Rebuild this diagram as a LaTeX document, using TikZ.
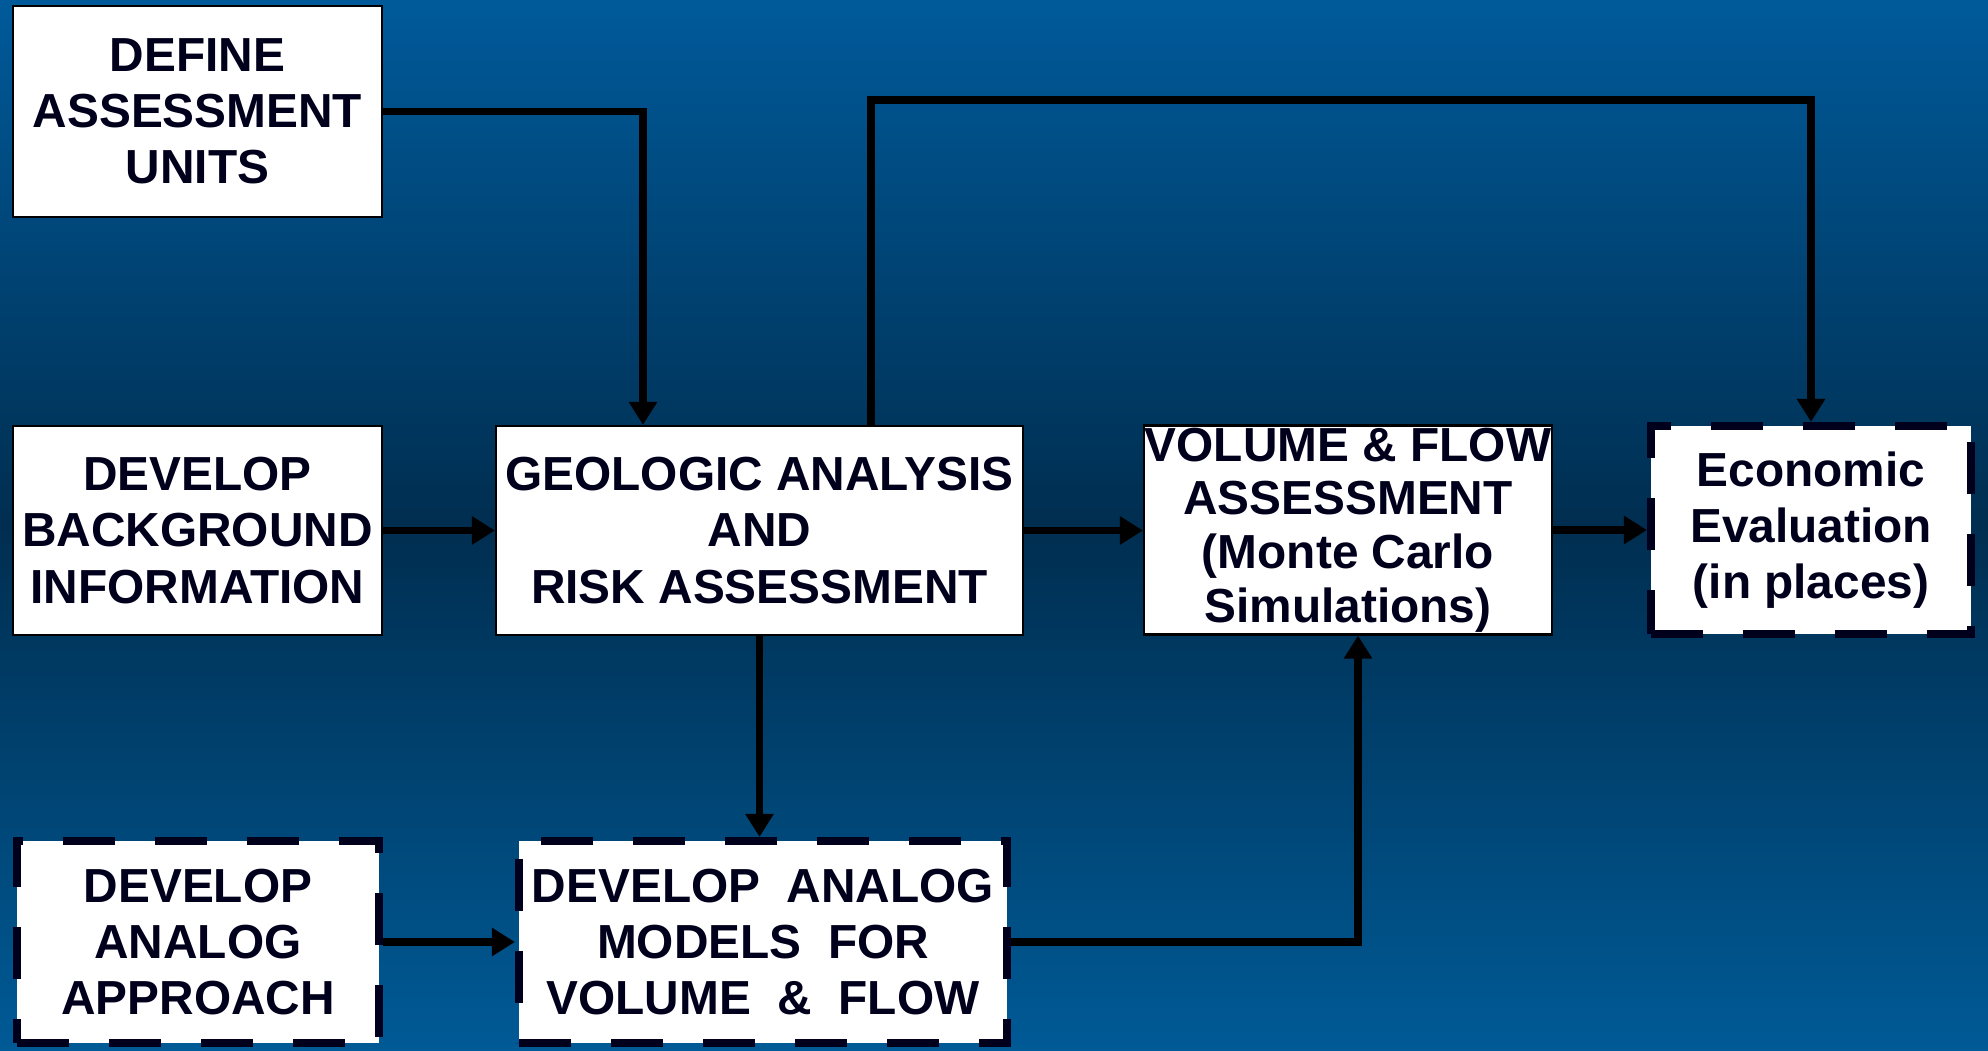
\documentclass[tikz,border=0pt]{standalone}
\usepackage{fontspec}
\setmainfont{Liberation Sans}
\usetikzlibrary{arrows.meta}
\definecolor{ink}{RGB}{0,0,28}
\definecolor{bgtop}{RGB}{0,90,154}
\definecolor{bgmid}{RGB}{0,46,80}
\definecolor{bgbot}{RGB}{0,90,150}
\begin{document}
\begin{tikzpicture}[
  box/.style={draw=black,line width=0.6pt,fill=white,text=ink,align=center,inner sep=0pt,
    font=\fontsize{13.6pt}{16pt}\selectfont\bfseries},
  dbox/.style={box,draw=ink,line width=2.3pt,dash pattern=on 5.2mm off 4mm},
  flow/.style={draw=black,line width=2.1pt,-{Triangle[length=2.3mm,width=2.7mm]}}]
\fill[top color=bgtop,bottom color=bgbot,middle color=bgmid](0,0)rectangle(19.88,10.5);
\useasboundingbox(0,0)rectangle(19.88,10.5);
% top row and middle row
\node[box,minimum width=3.69cm,minimum height=2.11cm](def)at(1.975,9.385){DEFINE\\ASSESSMENT\\UNITS};
\node[box,minimum width=3.69cm,minimum height=2.09cm](bg)at(1.975,5.195){DEVELOP\\BACKGROUND\\INFORMATION};
\node[box,minimum width=5.27cm,minimum height=2.09cm](geo)at(7.595,5.195){GEOLOGIC ANALYSIS\\AND\\RISK ASSESSMENT};
\node[box,minimum width=4.08cm,minimum height=2.09cm,font=\fontsize{13.6pt}{15.3pt}\selectfont\bfseries](vol)at(13.48,5.2){VOLUME \& FLOW\\ASSESSMENT\\(Monte Carlo\\Simulations)};
\node[dbox,minimum width=3.20cm,minimum height=2.08cm](eco)at(18.11,5.2){Economic\\Evaluation\\(in places)};
% analog row
\node[dbox,minimum width=3.62cm,minimum height=2.02cm](app)at(1.98,1.08){DEVELOP\\ANALOG\\APPROACH};
\node[dbox,minimum width=4.88cm,minimum height=2.02cm](mod)at(7.63,1.08){DEVELOP~ ANALOG\\MODELS~ FOR\\VOLUME~ \&~ FLOW};
% connectors
\coordinate(over)at(8.71,9.5);
\draw[flow](def.east)-|([xshift=-11.65mm]geo.north);
\draw[flow](geo.north-|over)--(over)-|(eco.north);
\draw[flow](bg.east)--(geo.west);
\draw[flow](geo.east)--(geo.east-|vol.west);
\draw[flow](vol.east)--(vol.east-|eco.west);
\draw[flow](geo.south)--(geo.south|-mod.north);
\draw[flow](app.east)--(mod.west);
\draw[flow](mod.east)-|([xshift=1mm]vol.south);
\end{tikzpicture}
\end{document}
